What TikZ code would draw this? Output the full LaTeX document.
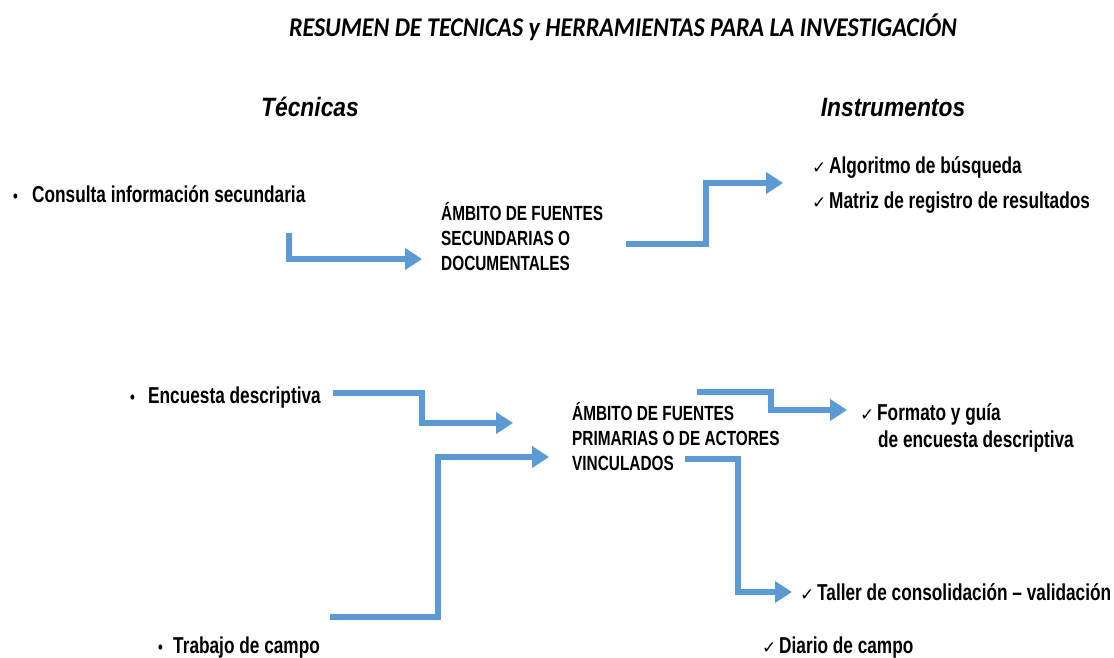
\documentclass[tikz,border=0pt]{standalone}
\usepackage{fontspec}
\usetikzlibrary{arrows.meta}
\newfontfamily\arb[FakeStretch=0.75]{Liberation Sans}
\newfontfamily\arbit[FakeStretch=0.86]{Liberation Sans}
\newfontfamily\ttl[FakeStretch=0.89]{Carlito}
\newfontfamily\djv{DejaVu Sans}
\definecolor{arrowblue}{HTML}{5B9BD5}
\newcommand{\chk}{\makebox[17pt][l]{\djv\fontsize{17}{17}\selectfont ✓}}
\newcommand{\bul}[1]{\makebox[#1][l]{\fontsize{18}{18}\selectfont •}}
\tikzset{
  flow/.style={draw=arrowblue, line width=6pt, -{Triangle[length=17pt,width=21pt]}},
  item/.style={anchor=base west, inner sep=0pt, font=\arb\bfseries\fontsize{23}{28}\selectfont},
  scope box/.style={anchor=north west, inner sep=0pt, align=left, font=\arb\bfseries\fontsize{20.5}{25}\selectfont},
  header/.style={anchor=base, inner sep=0pt, font=\arbit\bfseries\itshape\fontsize{26.5}{30}\selectfont},
}
\begin{document}
\begin{tikzpicture}[x=1pt,y=-1pt]
\useasboundingbox[fill=white] (0,0) rectangle (1114,658);
% title and headers
\node[anchor=base, inner sep=0pt, font=\ttl\bfseries\itshape\fontsize{27}{30}\selectfont] (title) at (623,37) {RESUMEN DE TECNICAS y HERRAMIENTAS PARA LA INVESTIGACIÓN};
\node[header] (tec) at (310,117) {Técnicas};
\node[header] (ins) at (893,117) {Instrumentos};
% techniques
\node[item] (consulta) at (13,202) {\bul{19pt}Consulta información secundaria};
\node[item] (encuesta) at (130,403) {\bul{18pt}Encuesta descriptiva};
\node[item] (trabajo) at (158,653) {\bul{15pt}Trabajo de campo};
% scopes
\node[scope box] (amb1) at (441,202) {ÁMBITO DE FUENTES\\SECUNDARIAS O\\DOCUMENTALES};
\node[scope box] (amb2) at (572,402) {ÁMBITO DE FUENTES\\PRIMARIAS O DE ACTORES\\VINCULADOS};
% instruments
\node[item] (algo) at (812,173) {\chk Algoritmo de búsqueda};
\node[item] (matriz) at (812,208) {\chk Matriz de registro de resultados};
\node[item] (formato) at (860,420) {\chk Formato y guía};
\node[item] (formato2) at (878,447) {de encuesta descriptiva};
\node[item] (taller) at (800,600) {\chk Taller de consolidación – validación};
\node[item] (diario) at (762,653) {\chk Diario de campo};
% connector end points
\coordinate (a1s) at (289,233); \coordinate (a1e) at (422,259);
\coordinate (a2s) at (626,244); \coordinate (a2e) at (783,183);
\coordinate (a3s) at (333,393); \coordinate (a3e) at (513,423);
\coordinate (a4s) at (330,617); \coordinate (a4e) at (549,457);
\coordinate (a5s) at (697,392); \coordinate (a5e) at (847,410);
\coordinate (a6s) at (685,459); \coordinate (a6e) at (792,592);
% connectors
\draw[flow] (a1s) |- (a1e);
\draw[flow] (a2s) -- (706,244) |- (a2e);
\draw[flow] (a3s) -- (422,393) |- (a3e);
\draw[flow] (a4s) -- (438,617) |- (a4e);
\draw[flow] (a5s) -- (771,392) |- (a5e);
\draw[flow] (a6s) -- (738,459) |- (a6e);
\end{tikzpicture}
\end{document}
